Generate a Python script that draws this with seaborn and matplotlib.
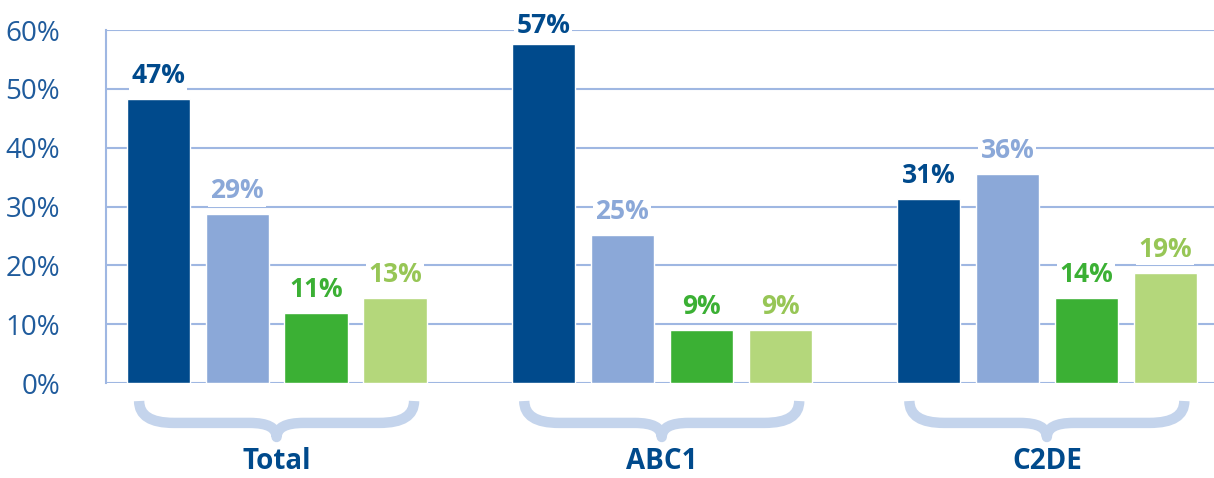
import numpy as np
import pandas as pd
import seaborn as sns
import matplotlib.pyplot as plt
import matplotlib.transforms as mtransforms
from matplotlib.path import Path
from matplotlib.patches import PathPatch

# Data
groups = ['Total', 'ABC1', 'C2DE']
series = ['Series 1', 'Series 2', 'Series 3', 'Series 4']
s1 = [48.3, 57.7, 31.3]
s2 = [28.7, 25.2, 35.5]
s3 = [11.9, 9.0, 14.5]
s4 = [14.5, 9.0, 18.7]
labels1 = ['47%', '57%', '31%']
labels2 = ['29%', '25%', '36%']
labels3 = ['11%', '9%', '14%']
labels4 = ['13%', '9%', '19%']
yticks = [0, 10, 20, 30, 40, 50, 60]

bar_colors = ['#004a8c', '#8ba8d8', '#3bb034', '#b4d77b']
label_colors = ['#004a8c', '#8ba8d8', '#3bb034', '#97c656']
grid_color = '#9fb7e2'
tick_color = '#1f5b9c'
brace_color = '#c4d4ec'

df = pd.DataFrame({
    'group': groups * 4,
    'series': np.repeat(series, 3),
    'value': s1 + s2 + s3 + s4,
})

sns.set_style('white')
plt.rcParams['font.family'] = ['Open Sans', 'DejaVu Sans']

fig = plt.figure(figsize=(12.14, 4.78), dpi=100)
ax = fig.add_axes([0.0873, 0.1987, 0.9127, 0.7385])

sns.barplot(data=df, x='group', y='value', hue='series', order=groups,
            hue_order=series, palette=bar_colors, width=0.82, gap=0.2,
            saturation=1, legend=False, ax=ax, zorder=3)

ax.set_ylim(0, 60)
ax.set_xlim(-0.443, 2.434)
ax.set_yticks(yticks)
ax.set_yticklabels([f'{t}%' for t in yticks])
ax.yaxis.grid(True, color=grid_color, linewidth=1.5, zorder=0)
ax.set_axisbelow(True)
ax.set_xlabel('')
ax.set_ylabel('')

for side in ['top', 'right', 'bottom']:
    ax.spines[side].set_visible(False)
ax.spines['left'].set_color(grid_color)
ax.spines['left'].set_linewidth(1.5)

ax.tick_params(axis='y', length=0, pad=33, labelsize=20, labelcolor=tick_color)
ax.tick_params(axis='x', length=0, pad=46, labelsize=20, labelcolor='#004a8c')
for lbl in ax.get_xticklabels():
    lbl.set_fontweight('bold')

# Value labels above bars
all_labels = [labels1, labels2, labels3, labels4]
texts = []
for cont, labs, col in zip(ax.containers, all_labels, label_colors):
    texts.append(ax.bar_label(cont, labels=labs, padding=7, color=col,
                              fontsize=19, fontweight='bold',
                              bbox=dict(facecolor='white', edgecolor='none', pad=1.5)))
# the tallest label sits a bit closer to its bar so it stays inside the figure
texts[0][1].xyann = (0, 3)

# Curly braces under each group
trans = mtransforms.blended_transform_factory(ax.transData, ax.transAxes)
h = 0.357
y_top, y_mid, y_tip = -0.051, -0.113, -0.153
for c in range(len(groups)):
    verts = [
        (c - h, y_top),
        (c - h, y_mid), (c - h + 0.09, y_mid),
        (c - 0.07, y_mid),
        (c, y_mid), (c, y_tip),
        (c, y_mid), (c + 0.07, y_mid),
        (c + h - 0.09, y_mid),
        (c + h, y_mid), (c + h, y_top),
    ]
    codes = [Path.MOVETO,
             Path.CURVE3, Path.CURVE3,
             Path.LINETO,
             Path.CURVE3, Path.CURVE3,
             Path.CURVE3, Path.CURVE3,
             Path.LINETO,
             Path.CURVE3, Path.CURVE3]
    patch = PathPatch(Path(verts, codes), transform=trans, facecolor='none',
                      edgecolor=brace_color, linewidth=7.5, clip_on=False,
                      capstyle='butt', joinstyle='round')
    ax.add_patch(patch)

fig.savefig('out.png', dpi=100)
